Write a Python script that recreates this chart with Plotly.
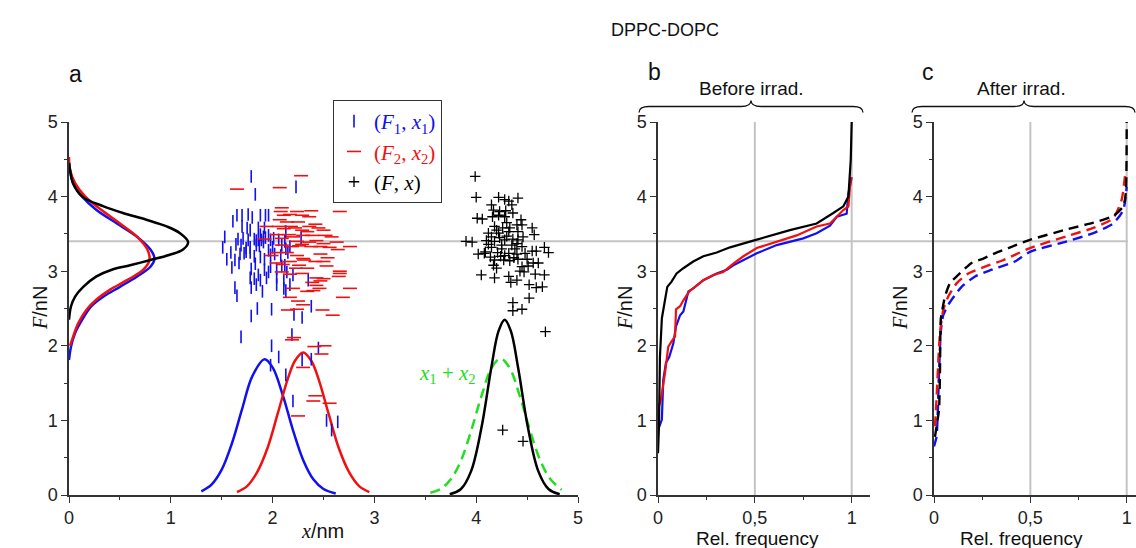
import plotly.graph_objects as go

W, H = 1136, 548

# ---------------- data: panel a scatter ----------------
F1x1 = [(1.79,4.27),(2.23,4.13),(1.83,4.03),(1.65,3.75),(1.70,3.75),(1.76,3.76),(1.80,3.72),(1.88,3.75),(1.93,3.75),(1.96,3.75),
        (1.61,3.67),(1.70,3.60),(1.75,3.58),(1.78,3.55),(1.86,3.58),(1.92,3.58),(1.88,3.49),(1.91,3.46),(1.96,3.48),(1.53,3.46),
        (1.66,3.43),(1.71,3.44),(1.76,3.42),(1.82,3.43),(1.84,3.41),(1.86,3.42),(1.89,3.42),(1.93,3.45),(1.98,3.42),(2.01,3.44),
        (2.13,3.53),(2.06,3.42),(2.12,3.40),(2.28,3.44),(1.51,3.32),(1.64,3.36),(1.69,3.35),(1.74,3.31),(1.78,3.32),(1.84,3.35),
        (1.87,3.34),(1.91,3.39),(1.96,3.28),(2.00,3.32),(2.09,3.35),(2.13,3.30),(2.15,3.25),(2.17,3.33),(1.55,3.16),(1.59,3.25),
        (1.68,3.23),(1.72,3.24),(1.74,3.26),(1.78,3.25),(1.82,3.20),(1.88,3.19),(1.92,3.16),(1.98,3.22),(2.02,3.23),(2.08,3.21),
        (2.12,3.08),(1.63,3.15),(1.67,3.11),(1.79,3.03),(1.83,3.10),(1.86,2.95),(1.92,3.02),(1.96,2.99),(1.98,3.06),(2.04,3.03),
        (2.09,3.07),(2.14,2.99),(2.20,2.95),(1.60,3.05),(1.78,2.91),(1.82,2.90),(1.88,2.88),(1.94,2.91),(2.04,2.92),(2.11,2.88),
        (2.35,2.88),(1.63,2.78),(1.79,2.78),(1.84,2.82),(1.90,2.73),(2.04,2.82),(2.11,2.77),(2.13,2.74),(2.17,2.82),(1.65,2.67),
        (1.85,2.50),(1.99,2.49),(1.79,2.40),(2.21,2.42),(2.29,2.38),(2.38,2.53),(1.69,2.12),(2.19,2.15),(1.99,2.00),(2.06,1.85),
        (2.45,1.97),(2.29,1.81),(2.38,1.82),(1.98,1.74),(2.13,1.61),(2.20,1.26),(2.53,1.00),(2.64,0.98),(2.58,0.87)]
F2x2 = [(2.28,4.28),(1.65,4.10),(2.07,4.12),(2.09,3.85),(2.08,3.80),(2.17,3.76),(2.24,3.80),(2.29,3.75),(2.38,3.81),(2.66,3.80),
        (2.11,3.75),(2.36,3.73),(2.42,3.63),(2.07,3.69),(2.14,3.66),(2.25,3.66),(2.36,3.60),(2.45,3.58),(2.50,3.55),(1.94,3.60),
        (2.06,3.60),(2.18,3.60),(2.11,3.57),(2.22,3.58),(2.29,3.55),(2.34,3.53),(2.16,3.49),(2.20,3.46),(2.30,3.48),(2.39,3.48),
        (2.52,3.48),(2.58,3.46),(2.04,3.49),(1.92,3.43),(2.09,3.44),(2.24,3.40),(2.29,3.36),(2.36,3.39),(2.43,3.41),(2.50,3.37),
        (2.63,3.39),(2.09,3.35),(2.19,3.33),(2.26,3.34),(2.38,3.33),(2.47,3.33),(2.56,3.32),(2.76,3.33),(2.04,3.25),(2.14,3.25),
        (1.99,3.21),(2.24,3.21),(2.30,3.17),(2.47,3.23),(2.54,3.18),(2.64,3.29),(2.17,3.13),(2.26,3.08),(2.31,3.15),(2.42,3.13),
        (2.50,3.13),(2.04,3.11),(2.10,3.09),(2.23,3.04),(2.34,3.04),(2.53,3.07),(2.66,3.00),(2.66,2.97),(2.09,2.99),(2.17,2.96),
        (2.29,2.97),(2.43,2.91),(2.50,2.90),(2.65,2.93),(2.39,2.85),(2.47,2.87),(2.43,2.81),(2.46,2.77),(2.34,2.73),(2.40,2.74),
        (2.76,2.77),(2.20,2.77),(2.17,2.65),(2.69,2.65),(2.25,2.60),(2.30,2.55),(2.15,2.48),(2.24,2.49),(2.49,2.48),(2.59,2.41),
        (2.21,2.11),(2.19,2.08),(2.41,1.99),(2.51,2.00),(2.48,1.89),(2.30,1.71),(2.42,1.33),(2.40,1.26),(2.56,1.23),(2.25,1.06)]
Fx = [(3.99,4.27),(4.00,3.99),(4.22,3.99),(4.28,3.96),(4.32,3.94),(4.41,3.98),(4.15,3.89),(4.35,3.89),(4.17,3.82),(4.23,3.80),
      (4.29,3.81),(4.06,3.70),(4.01,3.71),(4.16,3.73),(4.22,3.75),(4.28,3.73),(4.36,3.78),(4.44,3.69),(4.40,3.62),(4.45,3.62),
      (4.18,3.60),(4.26,3.58),(4.33,3.58),(4.12,3.51),(4.22,3.51),(4.32,3.53),(4.41,3.53),(4.55,3.58),(4.57,3.49),(3.90,3.40),
      (3.96,3.39),(4.10,3.41),(4.15,3.46),(4.18,3.40),(4.23,3.45),(4.28,3.42),(4.36,3.43),(4.41,3.42),(4.46,3.46),(4.35,3.35),
      (4.25,3.35),(4.15,3.32),(4.09,3.26),(4.45,3.33),(4.55,3.27),(4.59,3.27),(4.67,3.32),(4.71,3.25),(4.02,3.23),(4.08,3.24),
      (4.21,3.25),(4.28,3.21),(4.32,3.24),(4.40,3.23),(4.48,3.24),(4.18,3.15),(4.27,3.15),(4.33,3.14),(4.41,3.16),(4.50,3.16),
      (4.56,3.11),(4.61,3.11),(4.17,3.08),(4.45,3.06),(4.51,3.07),(4.20,3.04),(4.43,3.00),(4.47,2.99),(4.05,2.95),(4.18,2.91),
      (4.32,2.93),(4.34,2.85),(4.40,2.88),(4.58,2.96),(4.67,2.95),(4.52,2.82),(4.59,2.78),(4.65,2.79),(4.52,2.64),(4.36,2.58),
      (4.36,2.47),(4.45,2.49),(4.68,2.19),(4.26,0.87),(4.46,0.72),
      (4.30,3.47),(4.25,3.30),(4.38,3.30),(4.20,3.55),(4.30,3.65),(4.12,3.36),(4.40,3.37),(4.24,3.20),(4.37,3.18),(4.14,3.19)]

# ---------------- data: distributions in panel a ----------------
px1_x = [1.30,1.40,1.50,1.60,1.70,1.80,1.92,2.00,2.10,2.20,2.30,2.40,2.50,2.62]
px1_y = [0.05,0.14,0.34,0.69,1.15,1.59,1.82,1.71,1.34,0.87,0.47,0.21,0.08,0.02]
px2_x = [1.65,1.75,1.85,1.95,2.05,2.15,2.22,2.30,2.38,2.45,2.55,2.65,2.75,2.85,2.95]
px2_y = [0.04,0.12,0.31,0.63,1.09,1.56,1.80,1.91,1.80,1.56,1.09,0.63,0.31,0.12,0.04]
px_x = [3.74,3.85,3.95,4.05,4.15,4.22,4.28,4.34,4.41,4.51,4.61,4.71,4.82]
px_y = [0.01,0.08,0.32,0.89,1.72,2.20,2.35,2.20,1.72,0.89,0.32,0.08,0.01]
psum_x = [3.55,3.65,3.75,3.85,3.95,4.05,4.15,4.24,4.33,4.43,4.53,4.63,4.73,4.84]
psum_y = [0.03,0.08,0.21,0.46,0.86,1.32,1.70,1.83,1.70,1.32,0.86,0.46,0.21,0.07]

mF_F = [4.45,4.36,4.18,4.00,3.87,3.78,3.69,3.60,3.51,3.39,3.29,3.22,3.15,3.08,3.02,2.93,2.79,2.66,2.53,2.35]
mF_d = [0.00,0.01,0.04,0.13,0.34,0.53,0.76,0.96,1.09,1.17,1.12,0.99,0.80,0.60,0.42,0.27,0.14,0.06,0.02,0.00]
mF2_F = [4.53,4.36,4.18,4.00,3.82,3.64,3.46,3.29,3.15,3.02,2.88,2.75,2.62,2.48,2.30,2.12,2.00]
mF2_d = [0.00,0.01,0.06,0.16,0.32,0.50,0.67,0.77,0.79,0.73,0.57,0.40,0.27,0.17,0.09,0.04,0.01]
mF1_F = [4.45,4.18,4.00,3.82,3.64,3.46,3.29,3.17,3.06,2.93,2.79,2.66,2.53,2.35,2.17,1.99,1.81]
mF1_d = [0.00,0.04,0.13,0.27,0.47,0.67,0.80,0.84,0.80,0.67,0.50,0.34,0.22,0.13,0.06,0.02,0.00]

# ---------------- data: panel b (before irradiation) ----------------
b_F_f = [0.0,0.005,0.01,0.02,0.036,0.048,0.07,0.096,0.131,0.182,0.234,0.303,0.372,0.423,0.492,0.681,0.819,0.905,0.957,0.983,0.995,1.0]
b_F_v = [0.56,0.92,1.85,2.37,2.61,2.79,2.86,2.97,3.04,3.13,3.20,3.25,3.32,3.36,3.41,3.55,3.64,3.78,3.87,4.00,4.49,5.00]
b_F2_f = [0.0,0.005,0.015,0.036,0.053,0.07,0.088,0.093,0.114,0.131,0.162,0.191,0.234,0.286,0.337,0.389,0.441,0.51,0.613,0.716,0.819,0.888,0.957,0.983,0.991,0.996]
b_F2_v = [1.10,1.19,1.28,1.63,1.99,2.06,2.13,2.49,2.53,2.61,2.73,2.79,2.88,2.95,2.99,3.10,3.20,3.31,3.40,3.48,3.60,3.64,3.82,3.87,4.13,4.26]
b_F1_f = [0.0,0.02,0.027,0.041,0.058,0.079,0.093,0.114,0.131,0.157,0.182,0.234,0.303,0.355,0.389,0.458,0.51,0.613,0.75,0.819,0.888,0.923,0.974,0.983,1.0]
b_F1_v = [0.87,1.01,1.54,1.77,1.85,2.03,2.26,2.41,2.46,2.73,2.77,2.88,2.97,3.02,3.08,3.17,3.24,3.35,3.44,3.51,3.61,3.73,3.77,4.04,4.26]

# ---------------- data: panel c (after irradiation) ----------------
c_F_f = [0.005,0.018,0.026,0.031,0.035,0.043,0.057,0.083,0.126,0.195,0.256,0.316,0.386,0.498,0.689,0.827,0.93,0.982,0.995,1.0]
c_F_v = [0.78,1.00,1.14,1.63,2.35,2.48,2.66,2.84,2.95,3.11,3.17,3.24,3.31,3.42,3.56,3.65,3.74,3.87,4.04,5.00]
c_F2_f = [0.005,0.013,0.022,0.031,0.048,0.074,0.118,0.178,0.264,0.351,0.42,0.498,0.689,0.827,0.93,0.974,0.991,0.995]
c_F2_v = [0.92,1.28,1.77,2.17,2.48,2.66,2.84,2.97,3.06,3.14,3.22,3.31,3.47,3.58,3.71,3.96,4.27,4.35]
c_F1_f = [0.0,0.013,0.018,0.026,0.036,0.048,0.074,0.109,0.143,0.213,0.299,0.42,0.498,0.689,0.827,0.93,0.982,1.0]
c_F1_v = [0.65,0.78,1.00,1.63,2.21,2.41,2.55,2.68,2.79,2.93,3.02,3.13,3.26,3.40,3.51,3.64,3.82,4.13]

F_ref = 3.4
x_ticks_b = [0, 0.5, 1]
x_ticktext_b = ["0", "0,5", "1"]

BLUE, RED, BLACK, GREEN = "#1010f0", "#f01010", "#000000", "#22dd22"
GRAY = "#c4c4c4"
SERIF = "Liberation Serif"
SANS = "Liberation Sans"

fig = go.Figure()

def unzip(pts):
    return [p[0] for p in pts], [p[1] for p in pts]

bx, bF = unzip(F1x1)
rx, rF = unzip(F2x2)
kx, kF = unzip(Fx)

# marginal curves
fig.add_trace(go.Scatter(x=mF1_d, y=mF1_F, mode="lines", line=dict(color=BLUE, width=2.5, shape="spline"), showlegend=False))
fig.add_trace(go.Scatter(x=mF2_d, y=mF2_F, mode="lines", line=dict(color=RED, width=2.5, shape="spline"), showlegend=False))
fig.add_trace(go.Scatter(x=mF_d, y=mF_F, mode="lines", line=dict(color=BLACK, width=2.5, shape="spline"), showlegend=False))
# x distributions
fig.add_trace(go.Scatter(x=px1_x, y=px1_y, mode="lines", line=dict(color=BLUE, width=2.5, shape="spline"), showlegend=False))
fig.add_trace(go.Scatter(x=px2_x, y=px2_y, mode="lines", line=dict(color=RED, width=2.5, shape="spline"), showlegend=False))
fig.add_trace(go.Scatter(x=psum_x, y=psum_y, mode="lines", line=dict(color=GREEN, width=2.5, shape="spline", dash="10px,6px"), showlegend=False))
fig.add_trace(go.Scatter(x=px_x, y=px_y, mode="lines", line=dict(color=BLACK, width=2.5, shape="spline"), showlegend=False))

# scatter
lab = lambda c, t: f'<span style="color:{c}">{t}</span>'
fig.add_trace(go.Scatter(x=bx, y=bF, mode="markers", name=lab(BLUE, "(<i>F</i><sub>1</sub>, <i>x</i><sub>1</sub>)"),
                         marker=dict(symbol="line-ns", size=9, color=BLUE, line=dict(width=1.6, color=BLUE))))
fig.add_trace(go.Scatter(x=rx, y=rF, mode="markers", name=lab(RED, "(<i>F</i><sub>2</sub>, <i>x</i><sub>2</sub>)"),
                         marker=dict(symbol="line-ew", size=10, color=RED, line=dict(width=1.6, color=RED))))
fig.add_trace(go.Scatter(x=kx, y=kF, mode="markers", name=lab(BLACK, "(<i>F</i>, <i>x</i>)"),
                         marker=dict(symbol="cross-thin", size=7.5, color=BLACK, line=dict(width=1.3, color=BLACK))))

# panel b
fig.add_trace(go.Scatter(x=b_F1_f, y=b_F1_v, xaxis="x2", yaxis="y2", mode="lines", line=dict(color=BLUE, width=2.2), showlegend=False))
fig.add_trace(go.Scatter(x=b_F2_f, y=b_F2_v, xaxis="x2", yaxis="y2", mode="lines", line=dict(color=RED, width=2.2), showlegend=False))
fig.add_trace(go.Scatter(x=b_F_f, y=b_F_v, xaxis="x2", yaxis="y2", mode="lines", line=dict(color=BLACK, width=2.2), showlegend=False))
# panel c
for fx_, fv_, col in [(c_F1_f, c_F1_v, BLUE), (c_F2_f, c_F2_v, RED), (c_F_f, c_F_v, BLACK)]:
    fig.add_trace(go.Scatter(x=fx_, y=fv_, xaxis="x3", yaxis="y3", mode="lines",
                             line=dict(color=col, width=2.4, dash="10px,6px", shape="spline", smoothing=0.6), showlegend=False))

def px2p(x):
    return x / W

def py2p(y):
    return 1 - y / H

ydom = [py2p(495), py2p(122)]
axis_common = dict(showline=True, linecolor="#333", linewidth=1.5, ticks="outside", ticklen=6, tickwidth=1.3,
                   tickcolor="#333", showgrid=False, zeroline=False, automargin=False,
                   tickfont=dict(family=SANS, size=18, color="#222"))
minor1 = dict(dtick=0.5, ticklen=3, ticks="outside", tickcolor="#333")
minor2 = dict(dtick=0.25, ticklen=3, ticks="outside", tickcolor="#333")

fig.update_layout(
    width=W, height=H, margin=dict(l=0, r=0, t=0, b=0, autoexpand=False),
    plot_bgcolor="white", paper_bgcolor="white",
    xaxis=dict(domain=[px2p(69), px2p(578)], range=[0, 5], dtick=1, anchor="y", minor=minor1, **axis_common),
    yaxis=dict(domain=ydom, range=[0, 5], dtick=1, anchor="x", minor=minor1, **axis_common),
    xaxis2=dict(domain=[px2p(658), px2p(870)], range=[0, 212 / 193.7], tickvals=x_ticks_b, ticktext=x_ticktext_b,
                anchor="y2", minor=minor2, **axis_common),
    yaxis2=dict(domain=ydom, range=[0, 5], dtick=1, anchor="x2", minor=minor1, **axis_common),
    xaxis3=dict(domain=[px2p(934), 1.0], range=[0, 202 / 192.7], tickvals=x_ticks_b, ticktext=x_ticktext_b,
                anchor="y3", minor=minor2, **axis_common),
    yaxis3=dict(domain=ydom, range=[0, 5], dtick=1, anchor="x3", minor=minor1, **axis_common),
    legend=dict(x=px2p(333), y=py2p(100), xanchor="left", yanchor="top", bgcolor="white",
                bordercolor="#333", borderwidth=1, font=dict(family=SERIF, size=21), itemwidth=30,
                tracegroupgap=0),
)

shapes = []
shapes.append(dict(type="line", xref="paper", yref="y", x0=px2p(69), x1=px2p(1128), y0=F_ref, y1=F_ref,
                   line=dict(color=GRAY, width=2), layer="below"))
for xa, ya in [("x2", "y2"), ("x3", "y3")]:
    for v in [0.5, 1.0]:
        shapes.append(dict(type="line", xref=xa, yref=ya, x0=v, x1=v, y0=0, y1=5, line=dict(color=GRAY, width=2), layer="below"))

def brace(x0, xm, x1, ytip=100.5, ymid=106.5, yend=112.5, r=10):
    pts = lambda x, y: f"{px2p(x):.5f},{py2p(y):.5f}"
    return (f"M {pts(x0, yend)} Q {pts(x0, ymid)} {pts(x0 + r, ymid)} L {pts(xm - r, ymid)} "
            f"Q {pts(xm, ymid)} {pts(xm, ytip)} Q {pts(xm, ymid)} {pts(xm + r, ymid)} "
            f"L {pts(x1 - r, ymid)} Q {pts(x1, ymid)} {pts(x1, yend)}")

for b in [(639, 751, 863), (912, 1024, 1135)]:
    shapes.append(dict(type="path", xref="paper", yref="paper", path=brace(*b), line=dict(color="#111", width=1.3)))
fig.update_layout(shapes=shapes)

F_title = f'<span style="font-family:{SERIF}"><i>F</i></span>/nN'
ann = [
    dict(x=px2p(665), y=py2p(30), text="DPPC-DOPC", font=dict(family=SANS, size=18, color="#111")),
    dict(x=px2p(75), y=py2p(74), text="a", font=dict(family=SANS, size=23, color="#111")),
    dict(x=px2p(654), y=py2p(72), text="b", font=dict(family=SANS, size=23, color="#111")),
    dict(x=px2p(928), y=py2p(72), text="c", font=dict(family=SANS, size=23, color="#111")),
    dict(x=px2p(751), y=py2p(88), text="Before irrad.", font=dict(family=SANS, size=19, color="#111")),
    dict(x=px2p(1021), y=py2p(88), text="After irrad.", font=dict(family=SANS, size=19, color="#111")),
    dict(x=px2p(40), y=py2p(308), text=F_title, textangle=-90, font=dict(family=SANS, size=20, color="#111")),
    dict(x=px2p(625), y=py2p(308), text=F_title, textangle=-90, font=dict(family=SANS, size=20, color="#111")),
    dict(x=px2p(900), y=py2p(308), text=F_title, textangle=-90, font=dict(family=SANS, size=20, color="#111")),
    dict(x=px2p(322), y=py2p(531), text=f'<span style="font-family:{SERIF}"><i>x</i></span>/nm',
         font=dict(family=SANS, size=20, color="#111")),
    dict(x=px2p(757), y=py2p(538.5), text="Rel. frequency", font=dict(family=SANS, size=19, color="#111")),
    dict(x=px2p(1021), y=py2p(538.5), text="Rel. frequency", font=dict(family=SANS, size=19, color="#111")),
    dict(x=px2p(447), y=py2p(374), text="<i>x</i><sub>1</sub> + <i>x</i><sub>2</sub>",
         font=dict(family=SERIF, size=21, color=GREEN)),
]
for a in ann:
    a.update(xref="paper", yref="paper", showarrow=False, xanchor="center", yanchor="middle")
fig.update_layout(annotations=ann)

fig.write_html("out.html", config={"displayModeBar": False},
               post_script="document.body.style.margin='0';document.body.style.overflow='hidden';")
